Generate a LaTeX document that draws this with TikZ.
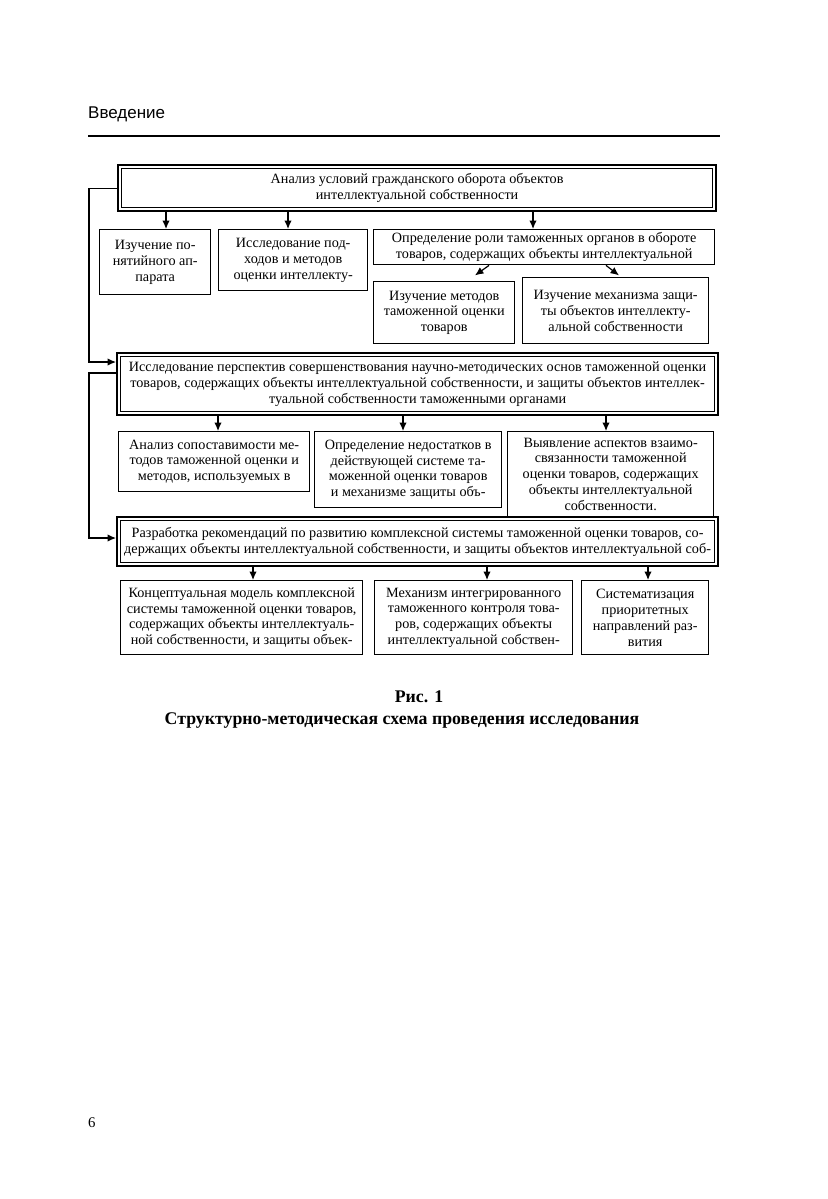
\documentclass[tikz,border=0pt]{standalone}
\usepackage{fontspec}
\setmainfont{Liberation Serif}
\newfontfamily\headfont{Liberation Sans}
\usetikzlibrary{arrows.meta}

\begin{document}
\begin{tikzpicture}[x=1pt,y=-1pt,>={Latex[length=8.5pt,width=7.5pt]},
    box/.style={draw,line width=1.4pt,anchor=north west,inner sep=0pt,align=center,
      font=\fontsize{14.2}{15.8}\selectfont},
    mainbox/.style={box,line width=2.2pt,
      path picture={\draw[line width=1pt] ([shift={(3.4pt,-3.4pt)}]path picture bounding box.north west)
        rectangle ([shift={(-3.4pt,3.4pt)}]path picture bounding box.south east);}},
    link/.style={->,line width=1.2pt}]
  \useasboundingbox (0,0) rectangle (827,1199);

  \node[anchor=base west,inner sep=0pt,font=\headfont\fontsize{17}{20}\selectfont] (head) at (88,118) {Введение};
  \draw[line width=1.3pt] (88,136) -- (720,136);

  \node[mainbox,minimum width=598pt,minimum height=46pt] (analysis) at (117,164)
    {Анализ условий гражданского оборота объектов\\интеллектуальной собственности};
  \node[box,minimum width=111pt,minimum height=65pt] (terms) at (99,229)
    {Изучение по-\\нятийного ап-\\парата};
  \node[box,minimum width=149pt,minimum height=61pt] (methods) at (218,229)
    {Исследование под-\\ходов и методов\\оценки интеллекту-};
  \node[box,minimum width=341pt,minimum height=35pt] (role) at (373,229)
    {Определение роли таможенных органов в обороте\\товаров, содержащих объекты интеллектуальной};
  \node[box,minimum width=141pt,minimum height=62pt] (valuation) at (373,281)
    {Изучение методов\\таможенной оценки\\товаров};
  \node[box,minimum width=186pt,minimum height=66pt] (protect) at (522,277)
    {Изучение механизма защи-\\ты объектов интеллекту-\\альной собственности};

  \node[mainbox,minimum width=601pt,minimum height=62pt] (prospects) at (116,352)
    {Исследование перспектив совершенствования научно-методических основ таможенной оценки\\
     товаров, содержащих объекты интеллектуальной собственности, и защиты объектов интеллек-\\
     туальной собственности таможенными органами};
  \node[box,minimum width=191pt,minimum height=60pt] (compare) at (118,431)
    {Анализ сопоставимости ме-\\тодов таможенной оценки и\\методов, используемых в};
  \node[box,minimum width=187pt,minimum height=76pt] (gaps) at (314,431)
    {Определение недостатков в\\действующей системе та-\\моженной оценки товаров\\и механизме защиты объ-};
  \node[box,minimum width=206pt,minimum height=85pt] (aspects) at (507,431)
    {Выявление аспектов взаимо-\\связанности таможенной\\оценки товаров, содержащих\\объекты интеллектуальной\\собственности.};

  \node[mainbox,minimum width=601pt,minimum height=49pt] (recommend) at (116,516)
    {Разработка рекомендаций по развитию комплексной системы таможенной оценки товаров, со-\\
     держащих объекты интеллектуальной собственности, и защиты объектов интеллектуальной соб-};
  \node[box,minimum width=242pt,minimum height=74pt] (model) at (120,580)
    {Концептуальная модель комплексной\\системы таможенной оценки товаров,\\содержащих объекты интеллектуаль-\\ной собственности, и защиты объек-};
  \node[box,minimum width=198pt,minimum height=74pt] (control) at (374,580)
    {Механизм интегрированного\\таможенного контроля това-\\ров, содержащих объекты\\интеллектуальной собствен-};
  \node[box,minimum width=127pt,minimum height=74pt] (priority) at (581,580)
    {Систематизация\\приоритетных\\направлений раз-\\вития};

  \draw[link] (analysis.south -| 166,0) -- (terms.north -| 166,0);
  \draw[link] (analysis.south -| 288,0) -- (methods.north -| 288,0);
  \draw[link] (analysis.south -| 533,0) -- (role.north -| 533,0);
  \draw[link] (role.south -| 489,0) -- ++(-14,10);
  \draw[link] (role.south -| 606,0) -- ++(13,10);

  \draw[link] (analysis.west) -- ++(-28,0) |- (prospects.west |- 0,362);
  \draw[link] (prospects.west |- 0,373) -- ++(-27,0) |- (recommend.west |- 0,538);

  \draw[link] (prospects.south -| 218,0) -- (compare.north -| 218,0);
  \draw[link] (prospects.south -| 403,0) -- (gaps.north -| 403,0);
  \draw[link] (prospects.south -| 606,0) -- (aspects.north -| 606,0);

  \draw[link] (recommend.south -| 253,0) -- (model.north -| 253,0);
  \draw[link] (recommend.south -| 487,0) -- (control.north -| 487,0);
  \draw[link] (recommend.south -| 648,0) -- (priority.north -| 648,0);

  \node[anchor=base,inner sep=0pt,font=\bfseries\fontsize{17.8}{20}\selectfont] (fignum) at (419,702) {Рис. 1};
  \node[anchor=base,inner sep=0pt,font=\bfseries\fontsize{17.8}{20}\selectfont] (figtitle) at (402,724)
    {Структурно-методическая схема проведения исследования};

  \node[anchor=base west,inner sep=0pt,font=\fontsize{14.8}{17}\selectfont] (pageno) at (88,1127) {6};
\end{tikzpicture}
\end{document}
